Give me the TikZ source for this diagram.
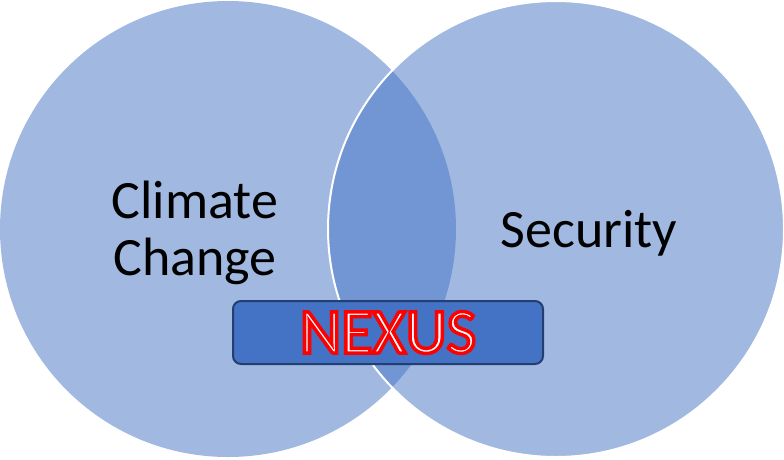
\documentclass[tikz,border=0pt]{standalone}
\usepackage{fontspec}
\setmainfont{Carlito}
\definecolor{vennblue}{HTML}{4472C4}
\definecolor{boxedge}{HTML}{233F70}
\newcommand{\outlinetext}[1]{\textcolor{white}{\special{pdf:code 2 Tr 3.5 w 1 0 0 RG}#1\special{pdf:code 0 Tr}}}
\begin{document}
\begin{tikzpicture}[x=1pt, y=-1pt,
    venn/.style={circle, minimum size=456pt, inner sep=0pt, fill=vennblue, fill opacity=0.5},
    venntext/.style={font=\fontsize{54}{57}\selectfont, align=center, text=black},
    nexusbox/.style={draw=boxedge, line width=2pt, fill=vennblue, rounded corners=8pt,
        minimum width=310pt, minimum height=63pt, font=\fontsize{64}{64}\selectfont}]
        \useasboundingbox (0, 0) rectangle (784, 459);
        % Kreise
        \node[venn] (climate) at (228, 229) {};
        \node[venn, draw=white, draw opacity=1, line width=2pt] (security) at (556, 229) {};
        % Texte
        \node[venntext] (climatetext) at (195, 233) {Climate\\Change};
        \node[venntext] (securitytext) at (589, 233) {Security};
        % Nexus
        \node[nexusbox] (nexus) at (388, 332.5) {\outlinetext{NEXUS}};
\end{tikzpicture}
\end{document}
